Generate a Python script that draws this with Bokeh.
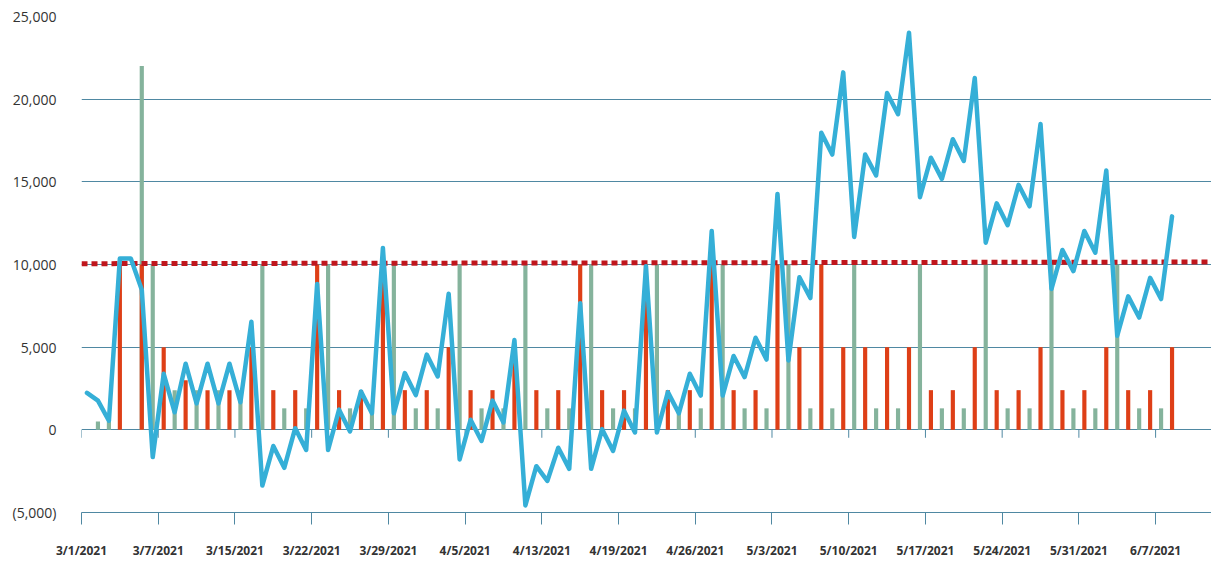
from bokeh.plotting import figure
from bokeh.models import Range1d, FixedTicker
from bokeh.embed import file_html
from bokeh.resources import INLINE

# ---- data ----
net_line = [2240, 1770, 550, 10370, 10370, 8480, -1650, 3390, 1060, 4000,
            1600, 4000, 1600, 4000, 1670, 6540, -3370, -980, -2300, 100,
            -1220, 8820, -1220, 1220, -100, 2320, 1000, 11000, 1000, 3430,
            2100, 4550, 3230, 8230, -1790, 610, -670, 1770, 450, 5430,
            -4570, -2200, -3090, -1080, -2360, 7660, -2360, 40, -1280, 1160,
            -160, 9900, -160, 2280, 1000, 3390, 2070, 12030, 2070, 4470,
            3190, 5570, 4250, 14270, 4200, 9230, 7970, 17970, 16650, 21620,
            11670, 16650, 15390, 20370, 19090, 24020, 14070, 16460, 15180, 17580,
            16260, 21280, 11320, 13700, 12380, 14820, 13520, 18500, 8520, 10880,
            9600, 12030, 10710, 15690, 5690, 8070, 6790, 9190, 7910, 12910]

red_bars = [0, 0, 0, 10000, 0, 10000, 0, 5000, 0, 3000,
            0, 2400, 0, 2400, 0, 5000, 0, 2400, 0, 2400,
            0, 10000, 0, 2400, 0, 2400, 0, 10000, 0, 2400,
            0, 2400, 0, 5000, 0, 2400, 0, 2400, 0, 5000,
            0, 2400, 0, 2400, 0, 10000, 0, 2400, 0, 2400,
            0, 10000, 0, 2400, 0, 2400, 0, 10000, 0, 2400,
            0, 2400, 0, 10000, 0, 5000, 0, 10000, 0, 5000,
            0, 5000, 0, 5000, 0, 5000, 0, 2400, 0, 2400,
            0, 5000, 0, 2400, 0, 2400, 0, 5000, 0, 2400,
            0, 2400, 0, 5000, 0, 2400, 0, 2400, 0, 5000]

green_bars = [0, 500, 500, 0, 0, 22000, 10000, 0, 2400, 0,
              2400, 0, 2400, 0, 2400, 0, 10000, 0, 1300, 0,
              1300, 0, 10000, 0, 1300, 0, 1300, 0, 10000, 0,
              1300, 0, 1300, 0, 10000, 0, 1300, 0, 1300, 0,
              10000, 0, 1300, 0, 1300, 0, 10000, 0, 1300, 0,
              1300, 0, 10000, 0, 1300, 0, 1300, 0, 10000, 0,
              1300, 0, 1300, 0, 10000, 0, 1300, 0, 1300, 0,
              10000, 0, 1300, 0, 1300, 0, 10000, 0, 1300, 0,
              1300, 0, 10000, 0, 1300, 0, 1300, 0, 10000, 0,
              1300, 0, 1300, 0, 10000, 0, 1300, 0, 1300, 0]

threshold_line = [10050, 10150]

x_tick_labels = ["3/1/2021", "3/7/2021", "3/15/2021", "3/22/2021", "3/29/2021",
                 "4/5/2021", "4/13/2021", "4/19/2021", "4/26/2021", "5/3/2021",
                 "5/10/2021", "5/17/2021", "5/24/2021", "5/31/2021", "6/7/2021"]
y_ticks = [-5000, 0, 5000, 10000, 15000, 20000, 25000]
y_tick_labels = ["(5,000)", "0", "5,000", "10,000", "15,000", "20,000", "25,000"]

# ---- styles ----
GRID = "#4f88a2"
RED = "#de3f17"
GREEN = "#85b39c"
BLUE = "#35afd7"
DOT = "#c0161d"
FONT = "Open Sans"

n = len(net_line)
xc = [i + 0.5 for i in range(n)]
per_tick = 7
x_ticks = [i * per_tick for i in range(len(x_tick_labels))]
x_end = 103.1

p = figure(width=1211, height=561, output_backend="svg", toolbar_location=None,
           x_range=Range1d(0, x_end), y_range=Range1d(-5000, 25000),
           min_border_left=81, min_border_right=0, min_border_top=16, min_border_bottom=0)
p.outline_line_color = None
p.background_fill_color = "white"
p.border_fill_color = "white"

p.xgrid.visible = False
p.ygrid.grid_line_color = GRID
p.ygrid.grid_line_width = 1

p.yaxis.ticker = FixedTicker(ticks=y_ticks)
p.yaxis.major_label_overrides = {t: l for t, l in zip(y_ticks, y_tick_labels)}
p.yaxis.axis_line_color = None
p.yaxis.major_tick_line_color = None
p.yaxis.minor_tick_line_color = None
p.yaxis.major_label_standoff = 19
p.yaxis.major_label_text_font = FONT
p.yaxis.major_label_text_font_size = "14px"
p.yaxis.major_label_text_color = "#333333"

p.xaxis.ticker = FixedTicker(ticks=x_ticks)
p.xaxis.major_label_overrides = {t: l for t, l in zip(x_ticks, x_tick_labels)}
p.xaxis.axis_line_color = GRID
p.xaxis.major_tick_line_color = GRID
p.xaxis.major_tick_out = 12
p.xaxis.major_tick_in = 0
p.xaxis.minor_tick_line_color = None
p.xaxis.major_label_standoff = 17
p.xaxis.major_label_text_font = FONT
p.xaxis.major_label_text_font_size = "12px"
p.xaxis.major_label_text_font_style = "bold"
p.xaxis.major_label_text_color = "#333333"

# small ticks hanging below the zero line
p.segment(x0=x_ticks, y0=[0] * len(x_ticks), x1=x_ticks, y1=[-480] * len(x_ticks),
          line_color=GRID, line_width=1)

# bars (green behind, red in front)
bar_w = 0.38
p.vbar(x=xc, top=green_bars, bottom=0, width=bar_w, fill_color=GREEN, line_color=None)
p.vbar(x=xc, top=red_bars, bottom=0, width=bar_w, fill_color=RED, line_color=None)

# dotted threshold line across the plot
p.line(x=[0, x_end], y=threshold_line, line_color=DOT, line_width=5, line_dash="6 4")

# net line
p.line(x=xc, y=net_line, line_color=BLUE, line_width=4.5, line_join="round", line_cap="round")

open("out.html", "w").write(file_html(p, INLINE))
